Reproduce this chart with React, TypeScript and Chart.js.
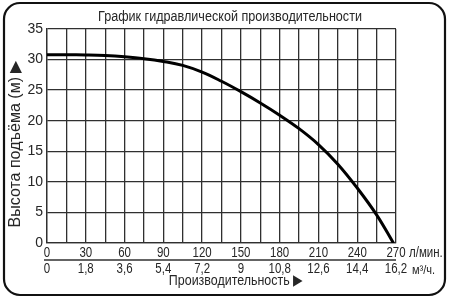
import React, { useEffect, useRef } from 'react';
import { Chart, registerables } from 'chart.js';

Chart.register(...registerables);

// Flow (л/мин) and head (м)
const flowLmin = [0, 15, 30, 45, 60, 75, 90, 105, 120, 135, 150, 165, 180, 195, 210, 225, 240, 255, 268];
const headM = [30.8, 30.8, 30.75, 30.65, 30.45, 30.15, 29.7, 29.05, 27.95, 26.45, 24.75, 22.9, 20.9, 18.7, 16.1, 12.9, 9.0, 4.6, 0];

// Axis labels
const xTickValues = [0, 30, 60, 90, 120, 150, 180, 210, 240, 270];
const xTickLmin = ['0', '30', '60', '90', '120', '150', '180', '210', '240', '270'];
const xTickM3h = ['0', '1,8', '3,6', '5,4', '7,2', '9', '10,8', '12,6', '14,4', '16,2'];
const unitLmin = 'л/мин.';
const unitM3h = 'м³/ч.';
const chartTitle = 'График гидравлической производительности';
const yTitle = 'Высота подъёма (м) ▶';
const xTitle = 'Производительность ▶';

const FONT = '"Liberation Sans", Arial, sans-serif';
const TEXT = '#262626';
const GRID = '#303030';

function text(ctx: CanvasRenderingContext2D, s: string, x: number, y: number, size: number, sx: number, align: CanvasTextAlign) {
  ctx.save();
  ctx.translate(x, y);
  ctx.scale(sx, 1);
  ctx.font = `${size}px ${FONT}`;
  ctx.textAlign = align;
  ctx.textBaseline = 'middle';
  ctx.fillText(s, 0, 0);
  ctx.restore();
}

const decorPlugin = {
  id: 'decor',
  beforeDraw(chart: any) {
    const ctx = chart.ctx;
    ctx.save();
    ctx.fillStyle = '#ffffff';
    ctx.fillRect(0, 0, chart.width, chart.height);
    ctx.strokeStyle = '#111111';
    ctx.lineWidth = 2.2;
    ctx.beginPath();
    (ctx as any).roundRect(4, 3, 441, 292, 16);
    ctx.stroke();
    ctx.restore();
  },
  afterDraw(chart: any) {
    const ctx = chart.ctx as CanvasRenderingContext2D;
    const xs = chart.scales.x;
    const area = chart.chartArea;
    ctx.save();
    ctx.fillStyle = TEXT;
    // title
    text(ctx, chartTitle, 230, 17, 14, 0.9, 'center');
    // x tick rows
    xTickValues.forEach((v, i) => {
      const px = xs.getPixelForValue(v);
      text(ctx, xTickLmin[i], px, 253, 14, 0.82, 'center');
      text(ctx, xTickM3h[i], px, 269, 14, 0.82, 'center');
    });
    const endPx = xs.getPixelForValue(270);
    text(ctx, unitLmin, endPx + 13, 253, 14, 0.82, 'left');
    text(ctx, unitM3h, endPx + 16, 270, 13, 0.85, 'left');
    // separator line
    ctx.strokeStyle = GRID;
    ctx.lineWidth = 1.3;
    ctx.beginPath();
    ctx.moveTo(area.left - 3, 260);
    ctx.lineTo(area.right, 260);
    ctx.stroke();
    // x title
    text(ctx, xTitle, 236, 281, 15, 0.83, 'center');
    // y title
    ctx.translate(16, 144);
    ctx.rotate(-Math.PI / 2);
    text(ctx, yTitle, 0, 0, 16, 1, 'center');
    ctx.restore();
  },
};

export default function App() {
  const ref = useRef<HTMLCanvasElement | null>(null);
  useEffect(() => {
    if (!ref.current) return;
    const chart = new Chart(ref.current, {
      type: 'line',
      data: {
        datasets: [
          {
            data: flowLmin.map((x, i) => ({ x, y: headM[i] })),
            borderColor: '#000000',
            borderWidth: 3,
            pointRadius: 0,
            tension: 0.4,
            fill: false,
          },
        ],
      },
      options: {
        responsive: false,
        animation: false,
        layout: { padding: { left: 0, top: 29, right: 55, bottom: 64 } },
        plugins: {
          legend: { display: false },
          tooltip: { enabled: false },
          title: { display: false },
        },
        scales: {
          x: {
            type: 'linear',
            min: 0,
            max: 270,
            ticks: { display: false, stepSize: 15 },
            grid: { color: GRID, lineWidth: 1.3, drawTicks: false },
            border: { color: GRID, width: 1.3 },
          },
          y: {
            min: 0,
            max: 35,
            ticks: {
              stepSize: 2.5,
              padding: 4,
              color: TEXT,
              font: { family: FONT, size: 14 },
              callback: (v: any) => (Number(v) % 5 === 0 ? String(v) : ''),
            },
            grid: { color: GRID, lineWidth: 1.3, drawTicks: false },
            border: { color: GRID, width: 1.3 },
            afterFit: (s: any) => {
              s.width = 47;
            },
          },
        },
      },
      plugins: [decorPlugin],
    } as any);
    return () => chart.destroy();
  }, []);
  return (
    <div style={{ position: 'fixed', left: 0, top: 0, width: 451, height: 307 }}>
      <canvas ref={ref} width={451} height={307} style={{ width: 451, height: 307 }} />
    </div>
  );
}
